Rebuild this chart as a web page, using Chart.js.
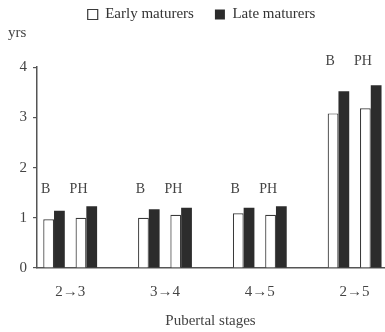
<!DOCTYPE html>
<html><head><meta charset="utf-8">
<script src="https://cdn.jsdelivr.net/npm/chart.js@4/dist/chart.umd.min.js"></script>
<style>html,body{margin:0;padding:0;background:#fff;}#wrap{position:relative;width:385px;height:332px;}</style>
</head><body><div id="wrap"><canvas id="c" width="385" height="332"></canvas></div>
<script>
const categories = ['2\u21923', '3\u21924', '4\u21925', '2\u21925'];
const earlyB  = [0.97, 1.00, 1.09, 3.08];
const lateB   = [1.14, 1.17, 1.20, 3.52];
const earlyPH = [1.00, 1.06, 1.06, 3.18];
const latePH  = [1.23, 1.20, 1.23, 3.64];
const yTicks = [0, 1, 2, 3, 4];
const subLabels = ['B', 'PH'];
const subLabelLevels = [1.56, 1.56, 1.56, 4.12];
const seriesNames = ['Early maturers', 'Late maturers'];
const yUnit = 'yrs';
const xTitle = 'Pubertal stages';

const SERIF = '"Liberation Serif", "DejaVu Serif", serif';
const TXT = '#444';
const DARK = '#2c2c2c';

const toXY = arr => arr.map((v, i) => ({x: i, y: v}));
const earlyStyle = {backgroundColor: '#ffffff', borderColor: '#3a3a3a', borderWidth: 1.2};
const lateStyle = {backgroundColor: DARK, borderColor: DARK, borderWidth: 0};

const annot = {
  id: 'annot',
  afterDatasetsDraw(chart) {
    const ctx = chart.ctx, ys = chart.scales.y, ca = chart.chartArea;
    const mB = chart.getDatasetMeta(0), mPH = chart.getDatasetMeta(3);
    ctx.save();
    ctx.fillStyle = TXT;
    ctx.font = '14px ' + SERIF;
    ctx.textBaseline = 'middle';
    ctx.textAlign = 'center';
    categories.forEach((c, i) => {
      const yy = ys.getPixelForValue(subLabelLevels[i]);
      const b = mB.data[i], p = mPH.data[i];
      ctx.fillText(subLabels[0], b.x - 3, yy);
      ctx.fillText(subLabels[1], p.x - p.width / 2 + 3, yy);
    });
    ctx.font = '15px ' + SERIF;
    ctx.textAlign = 'left';
    ctx.fillText(yUnit, ca.left - 29, ca.top - 34);
    ctx.restore();
  }
};

new Chart(document.getElementById('c'), {
  type: 'bar',
  data: {
    datasets: [
      Object.assign({label: seriesNames[0], data: toXY(earlyB)}, earlyStyle),
      Object.assign({label: seriesNames[1], data: toXY(lateB)}, lateStyle),
      {label: '', data: categories.map((c, i) => ({x: i, y: null}))},
      Object.assign({label: seriesNames[0] + ' PH', data: toXY(earlyPH)}, earlyStyle),
      Object.assign({label: seriesNames[1] + ' PH', data: toXY(latePH)}, lateStyle)
    ]
  },
  options: {
    responsive: false,
    animation: false,
    devicePixelRatio: 1,
    categoryPercentage: 0.568,
    barPercentage: 1.0,
    layout: {padding: {top: -14, right: 1, bottom: 0, left: 19}},
    plugins: {
      tooltip: {enabled: false},
      legend: {
        position: 'top',
        fullSize: true,
        labels: {
          filter: item => item.datasetIndex < 2,
          boxWidth: 10, boxHeight: 10,
          padding: 21,
          color: '#333',
          font: {family: SERIF, size: 15}
        }
      },
      subtitle: {
        display: true, text: '', weight: 500, position: 'top',
        font: {size: 1}, padding: {top: 0, bottom: 34}
      }
    },
    scales: {
      x: {
        type: 'linear',
        offset: false,
        min: -0.35, max: 3.31,
        afterBuildTicks: s => { s.ticks = categories.map((c, i) => ({value: i})); },
        afterFit: s => { s.height = 64; },
        ticks: {
          autoSkip: false, maxRotation: 0, padding: 7,
          color: TXT, font: {family: SERIF, size: 15},
          callback: v => categories[v]
        },
        grid: {display: false},
        border: {display: true, color: '#555', width: 1.5},
        title: {display: true, text: xTitle, color: TXT, font: {family: SERIF, size: 15}, padding: {top: 0, bottom: 2}}
      },
      y: {
        min: 0, max: 4,
        afterBuildTicks: s => { s.ticks = yTicks.map(v => ({value: v})); },
        afterFit: s => { s.width = 18; },
        ticks: {color: TXT, padding: 6, font: {family: SERIF, size: 15}},
        grid: {display: true, drawOnChartArea: false, tickLength: 4, color: '#555', lineWidth: 1.2},
        border: {display: true, color: '#555', width: 1.5}
      }
    }
  },
  plugins: [annot]
});
</script></body></html>
